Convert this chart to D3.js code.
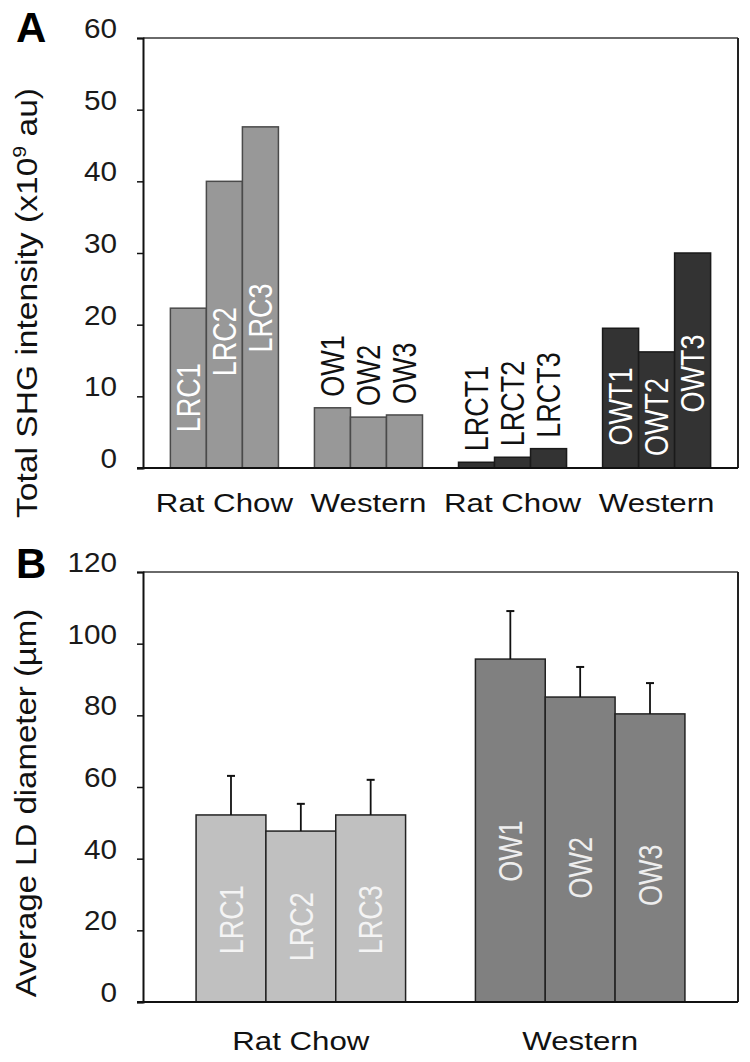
<!DOCTYPE html>
<html>
<head>
<meta charset="utf-8">
<script src="https://cdn.jsdelivr.net/npm/d3@7"></script>
<style>
  body { margin: 0; background: #fff; }
  text { font-family: "Liberation Sans", Arial, sans-serif; }
</style>
</head>
<body>
<svg id="chart"></svg>
<script>
// Panel A data
const groupsA = ["Rat Chow", "Western", "Rat Chow", "Western"];
const barNamesA = [["LRC1", "LRC2", "LRC3"], ["OW1", "OW2", "OW3"], ["LRCT1", "LRCT2", "LRCT3"], ["OWT1", "OWT2", "OWT3"]];
const valuesA = [[22.3, 40, 47.6], [8.4, 7.1, 7.4], [0.8, 1.5, 2.7], [19.5, 16.2, 30]];
const ticksA = [0, 10, 20, 30, 40, 50, 60];

// Panel B data
const groupsB = ["Rat Chow", "Western"];
const barNamesB = [["LRC1", "LRC2", "LRC3"], ["OW1", "OW2", "OW3"]];
const valuesB = [[52.2, 47.7, 52.2], [95.7, 85.1, 80.4]];
const errorsB = [[10.9, 7.6, 9.8], [13.4, 8.4, 8.6]];
const ticksB = [0, 20, 40, 60, 80, 100, 120];

// styling per group
const styleA = [
  { fill: "#989898", stroke: "#4a4a4a", label: "#ffffff", inside: true },
  { fill: "#989898", stroke: "#4a4a4a", label: "#111111", inside: false },
  { fill: "#333333", stroke: "#1a1a1a", label: "#111111", inside: false },
  { fill: "#333333", stroke: "#1a1a1a", label: "#ffffff", inside: true }
];
const styleB = [
  { fill: "#c0c0c0", stroke: "#222222", label: "#f4f4f4", inside: true },
  { fill: "#808080", stroke: "#222222", label: "#eeeeee", inside: true }
];

const width = 750, height = 1062;
const svg = d3.select("#chart").attr("width", width).attr("height", height);

const SX = 1.2; // the figure is stretched sideways a bit

function panel(opt) {
  const { top, bottom, left, right, maxV, ticks, groups, names, values, errors, styles } = opt;
  const g = svg.append("g");

  const y = d3.scaleLinear().domain([0, maxV]).range([bottom, top]);
  const x0 = d3.scaleBand().domain(d3.range(groups.length))
      .range([left, right]).paddingInner(0.25).paddingOuter(0.19);
  const x1 = d3.scaleBand().domain([0, 1, 2]).range([0, x0.bandwidth()]).padding(0);

  // frame: top + right
  g.append("line").attr("x1", left).attr("x2", right).attr("y1", top).attr("y2", top)
      .attr("stroke", "#6a6a6a").attr("stroke-width", 2);
  g.append("line").attr("x1", right).attr("x2", right).attr("y1", top).attr("y2", bottom)
      .attr("stroke", "#222").attr("stroke-width", 2);

  // bars
  groups.forEach((grp, gi) => {
    const st = styles[gi];
    values[gi].forEach((v, bi) => {
      const bx = x0(gi) + x1(bi);
      const bw = x1.bandwidth();
      g.append("rect")
          .attr("x", bx).attr("y", y(v))
          .attr("width", bw).attr("height", y(0) - y(v))
          .attr("fill", st.fill).attr("stroke", st.stroke).attr("stroke-width", 1.5);

      if (errors) {
        const e = errors[gi][bi];
        const cx = bx + bw / 2;
        g.append("line").attr("x1", cx).attr("x2", cx).attr("y1", y(v)).attr("y2", y(v + e))
            .attr("stroke", "#111").attr("stroke-width", 1.8);
        g.append("line").attr("x1", cx - 4).attr("x2", cx + 4).attr("y1", y(v + e)).attr("y2", y(v + e))
            .attr("stroke", "#111").attr("stroke-width", 2);
      }
    });
  });

  // bar labels drawn after bars
  groups.forEach((grp, gi) => {
    const st = styles[gi];
    values[gi].forEach((v, bi) => {
      const cx = x0(gi) + x1(bi) + x1.bandwidth() / 2;
      const t = g.append("text")
          .attr("fill", st.label)
          .attr("font-size", 27)
          .attr("dy", "0.36em")
          .text(names[gi][bi]);
      if (st.inside) {
        const ly = y(v * 0.44);
        t.attr("text-anchor", "middle")
         .attr("transform", `translate(${cx},${ly}) scale(${SX},1) rotate(-90)`);
      } else {
        t.attr("text-anchor", "start")
         .attr("transform", `translate(${cx},${y(v) - 11}) scale(${SX},1) rotate(-90)`);
      }
    });
  });

  // left axis
  const axis = d3.axisLeft(y).tickValues(ticks).tickSize(6).tickFormat("");
  const ga = g.append("g").attr("transform", `translate(${left},0)`).call(axis);
  ga.select(".domain").attr("stroke", "#111").attr("stroke-width", 2);
  ga.selectAll(".tick line").attr("stroke", "#111").attr("stroke-width", 1.5);
  ticks.forEach(t => {
    g.append("text")
        .attr("text-anchor", "end")
        .attr("font-size", 27)
        .attr("fill", "#1a1a1a")
        .attr("transform", `translate(${left - 26},${y(t)}) scale(1.1,1)`)
        .text(t);
  });

  // baseline
  g.append("line").attr("x1", left - 6).attr("x2", right).attr("y1", bottom).attr("y2", bottom)
      .attr("stroke", "#111").attr("stroke-width", 2);

  // category labels
  groups.forEach((grp, gi) => {
    g.append("text")
        .attr("text-anchor", "middle")
        .attr("font-size", 25)
        .attr("fill", "#111")
        .attr("transform", `translate(${x0(gi) + x0.bandwidth() / 2},${opt.catY}) scale(1.25,1)`)
        .text(grp);
  });

  return g;
}

const gA = panel({
  top: 38, bottom: 468, left: 143, right: 738, maxV: 60, ticks: ticksA,
  groups: groupsA, names: barNamesA, values: valuesA, styles: styleA, catY: 512
});
const gB = panel({
  top: 572, bottom: 1002, left: 143, right: 738, maxV: 120, ticks: ticksB,
  groups: groupsB, names: barNamesB, values: valuesB, errors: errorsB, styles: styleB, catY: 1050
});

// y titles
const titleA = svg.append("text")
    .attr("text-anchor", "middle").attr("font-size", 30).attr("fill", "#111")
    .attr("dy", "0.35em")
    .attr("transform", "translate(26,303) scale(1,1.12) rotate(-90)");
titleA.append("tspan").text("Total SHG intensity (x10");
titleA.append("tspan").attr("font-size", 19).attr("dy", "-0.55em").text("9");
titleA.append("tspan").attr("dy", "0.35em").text(" au)");

svg.append("text")
    .attr("text-anchor", "middle").attr("font-size", 30).attr("fill", "#111")
    .attr("dy", "0.35em")
    .attr("transform", "translate(25,803) scale(1,1.1) rotate(-90)")
    .text("Average LD diameter (µm)");

// panel letters
svg.append("text").attr("x", 16).attr("y", 42).attr("font-size", 42)
    .attr("font-weight", "bold").attr("fill", "#000").text("A");
svg.append("text").attr("x", 16).attr("y", 578).attr("font-size", 42)
    .attr("font-weight", "bold").attr("fill", "#000").text("B");
</script>
</body>
</html>
